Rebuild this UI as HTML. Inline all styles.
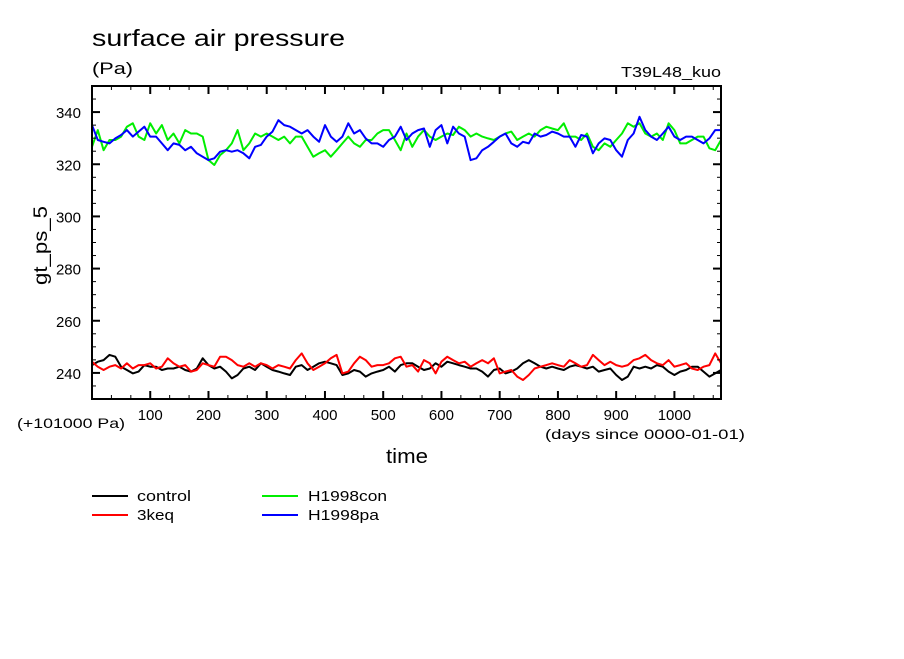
<!DOCTYPE html>
<html><head><meta charset="utf-8"><style>
body{margin:0;background:#fff;}
svg text{font-family:"Liberation Sans",sans-serif;fill:#000;}
</style></head><body>
<svg id="c" width="904" height="654" xmlns="http://www.w3.org/2000/svg">
<rect width="904" height="654" fill="#fff"/>
<text x="92" y="46" font-size="23" textLength="253" lengthAdjust="spacingAndGlyphs">surface air pressure</text>
<text x="92" y="74" font-size="17" textLength="41" lengthAdjust="spacingAndGlyphs">(Pa)</text>
<text x="621" y="77" font-size="15" textLength="100" lengthAdjust="spacingAndGlyphs">T39L48_kuo</text>
<text transform="translate(47,285) rotate(-90)" font-size="19" textLength="79" lengthAdjust="spacingAndGlyphs">gt_ps_5</text>
<text x="17" y="428" font-size="14" textLength="108" lengthAdjust="spacingAndGlyphs">(+101000 Pa)</text>
<text x="545" y="439" font-size="14" textLength="200" lengthAdjust="spacingAndGlyphs">(days since 0000-01-01)</text>
<text x="386" y="463" font-size="20" textLength="42" lengthAdjust="spacingAndGlyphs">time</text>
<g id="plot"></g>
<g>
<line x1="92" y1="496" x2="128" y2="496" stroke="#000" stroke-width="2"/>
<text x="137" y="501" font-size="15" textLength="54" lengthAdjust="spacingAndGlyphs">control</text>
<line x1="92" y1="515" x2="128" y2="515" stroke="#f00" stroke-width="2"/>
<text x="137" y="520" font-size="15" textLength="37" lengthAdjust="spacingAndGlyphs">3keq</text>
<line x1="262" y1="496" x2="298" y2="496" stroke="#0e0" stroke-width="2"/>
<text x="308" y="501" font-size="15" textLength="79" lengthAdjust="spacingAndGlyphs">H1998con</text>
<line x1="262" y1="515" x2="298" y2="515" stroke="#00f" stroke-width="2"/>
<text x="308" y="520" font-size="15" textLength="71" lengthAdjust="spacingAndGlyphs">H1998pa</text>
</g>
</svg>
<script>
const xTicks=[100,200,300,400,500,600,700,800,900,1000];
const yTicks=[240,260,280,300,320,340];
const dayStep=10;
const control=[243.0,244.3,244.9,246.9,246.2,242.4,241.1,239.8,240.5,243.0,242.4,242.4,241.1,241.7,241.7,242.4,241.1,240.5,241.7,245.6,243.0,241.7,242.4,240.5,237.9,239.2,241.7,242.4,241.1,243.7,242.4,241.1,240.5,239.8,239.2,242.4,243.0,241.1,242.4,243.7,244.3,243.7,243.0,239.2,239.8,241.1,240.5,238.6,239.8,240.5,241.1,242.4,240.5,243.0,243.7,
243.7,242.4,241.1,241.7,243.7,242.4,244.3,243.7,243.0,242.4,241.7,241.7,240.5,238.6,241.1,241.7,239.8,240.5,241.7,243.7,244.9,243.7,242.4,241.7,242.4,241.7,241.1,242.4,243.0,242.4,241.7,242.4,240.5,241.1,241.7,239.2,237.3,238.6,242.4,241.7,242.4,241.7,243.0,242.4,240.5,239.2,240.5,241.1,242.4,242.4,240.5,238.6,239.8,241.1];
const keq3=[244.3,242.4,241.1,242.4,243.0,241.7,243.7,241.7,243.0,243.0,243.7,241.7,242.4,245.6,243.7,242.4,243.0,240.5,241.1,243.7,243.0,242.4,246.2,246.2,244.9,243.0,242.4,243.7,242.4,243.7,243.0,241.7,243.0,242.4,241.7,244.9,247.5,243.7,241.1,242.4,243.7,245.6,246.9,239.8,240.5,243.7,246.2,244.9,242.4,243.0,243.0,243.7,245.6,246.2,242.4,
243.0,240.5,244.9,243.7,239.8,244.3,246.2,244.9,243.7,244.3,242.4,243.7,244.9,243.7,245.6,239.8,240.5,241.1,238.6,237.3,239.2,241.7,242.4,243.0,243.7,243.0,242.4,244.9,243.7,242.4,243.0,246.9,244.9,243.0,244.3,243.0,242.4,243.0,244.9,245.6,246.9,244.9,243.7,243.0,244.9,242.4,243.0,243.7,241.7,241.1,242.4,243.0,247.5,243.7];
const h1998con=[326.7,333.1,325.4,329.3,329.3,330.6,334.4,335.7,330.6,329.3,335.7,331.8,335.0,329.3,331.8,328.0,333.1,331.8,331.8,330.6,321.6,319.7,323.5,325.4,328.0,333.1,325.4,328.0,331.8,330.6,331.8,330.6,329.3,330.6,328.0,330.6,330.6,326.7,322.9,324.2,325.4,322.9,325.4,328.0,330.6,328.0,326.7,329.3,329.3,331.8,333.1,333.1,329.3,325.4,331.8,
326.7,330.6,333.1,330.6,329.3,330.6,331.8,331.2,334.4,333.1,330.6,331.8,330.6,329.9,329.3,330.6,331.8,332.5,329.3,330.6,331.8,330.6,333.1,334.4,333.7,333.1,335.7,330.6,330.6,329.3,331.8,326.7,325.4,328.0,326.7,329.3,331.8,335.7,334.4,335.7,331.8,330.6,331.8,329.3,335.7,333.1,328.0,328.0,329.3,330.6,330.6,326.1,325.4,329.3];
const h1998pa=[335.0,329.3,328.6,328.0,329.9,331.2,333.1,330.6,332.5,334.4,330.6,330.6,328.0,325.4,328.0,327.4,325.4,326.7,324.2,322.9,321.6,322.3,324.8,325.4,324.8,325.4,324.2,322.3,326.7,327.4,330.6,332.5,336.9,335.0,334.4,333.1,331.8,333.1,330.6,328.6,335.0,330.6,328.6,330.6,335.7,331.8,333.1,329.9,328.0,328.0,326.7,329.3,330.6,334.4,329.3,
331.8,333.1,333.7,326.7,333.1,335.0,328.0,334.4,331.8,330.6,321.6,322.3,325.4,326.7,328.6,330.6,331.8,328.0,326.7,328.6,328.0,331.8,330.6,331.2,332.5,331.8,330.6,330.6,326.7,331.2,330.6,324.2,328.0,329.9,329.3,325.4,322.9,329.3,331.8,338.2,333.1,330.6,329.3,331.8,334.4,330.6,329.3,330.6,330.6,329.3,328.0,329.9,333.1,333.1];

const L=92,R=721,T=86,B=399,X0=0,X1=1080,Y0=230,Y1=350;
const sx=d=>L+(d-X0)/(X1-X0)*(R-L);
const sy=v=>B-(v-Y0)/(Y1-Y0)*(B-T);
const NS='http://www.w3.org/2000/svg';
const g=document.getElementById('plot');
function mk(tag,attrs){const e=document.createElementNS(NS,tag);for(const k in attrs)e.setAttribute(k,attrs[k]);g.appendChild(e);return e;}

function series(arr,color,name){
  const pts=arr.map((v,i)=>sx(i*dayStep).toFixed(1)+','+sy(v).toFixed(1)).join(' ');
  const p=mk('polyline',{points:pts,fill:'none',stroke:color,'stroke-width':2,'stroke-linejoin':'round'});
  
  
}
series(control,'#000','series-control');
series(keq3,'#f00','series-3keq');
series(h1998con,'#0e0','series-h1998con');
series(h1998pa,'#00f','series-h1998pa');

const fr=mk('rect',{x:L,y:T,width:R-L,height:B-T,fill:'none',stroke:'#000','stroke-width':2});



for(let d=0;d<=X1;d+=100/3){
  const x=sx(d);
  mk('line',{x1:x,y1:B,x2:x,y2:B-4,stroke:'#000','stroke-width':1});
  mk('line',{x1:x,y1:T,x2:x,y2:T+4,stroke:'#000','stroke-width':1});
}
for(let v=Y0;v<=Y1;v+=5){
  const y=sy(v);
  mk('line',{x1:L,y1:y,x2:L+4,y2:y,stroke:'#000','stroke-width':1});
  mk('line',{x1:R,y1:y,x2:R-4,y2:y,stroke:'#000','stroke-width':1});
}
xTicks.forEach(d=>{
  const x=sx(d);
  mk('line',{x1:x,y1:B,x2:x,y2:B-8,stroke:'#000','stroke-width':2});
  mk('line',{x1:x,y1:T,x2:x,y2:T+8,stroke:'#000','stroke-width':2});
  const t=mk('text',{x:x,y:B+21,'font-size':15,'text-anchor':'middle'});
  t.textContent=d;
  
  
});
yTicks.forEach(v=>{
  const y=sy(v);
  mk('line',{x1:L,y1:y,x2:L+8,y2:y,stroke:'#000','stroke-width':2});
  mk('line',{x1:R,y1:y,x2:R-8,y2:y,stroke:'#000','stroke-width':2});
  const t=mk('text',{x:L-11,y:y+6,'font-size':15,'text-anchor':'end'});
  t.textContent=v;
  
  
});
</script>
</body></html>
